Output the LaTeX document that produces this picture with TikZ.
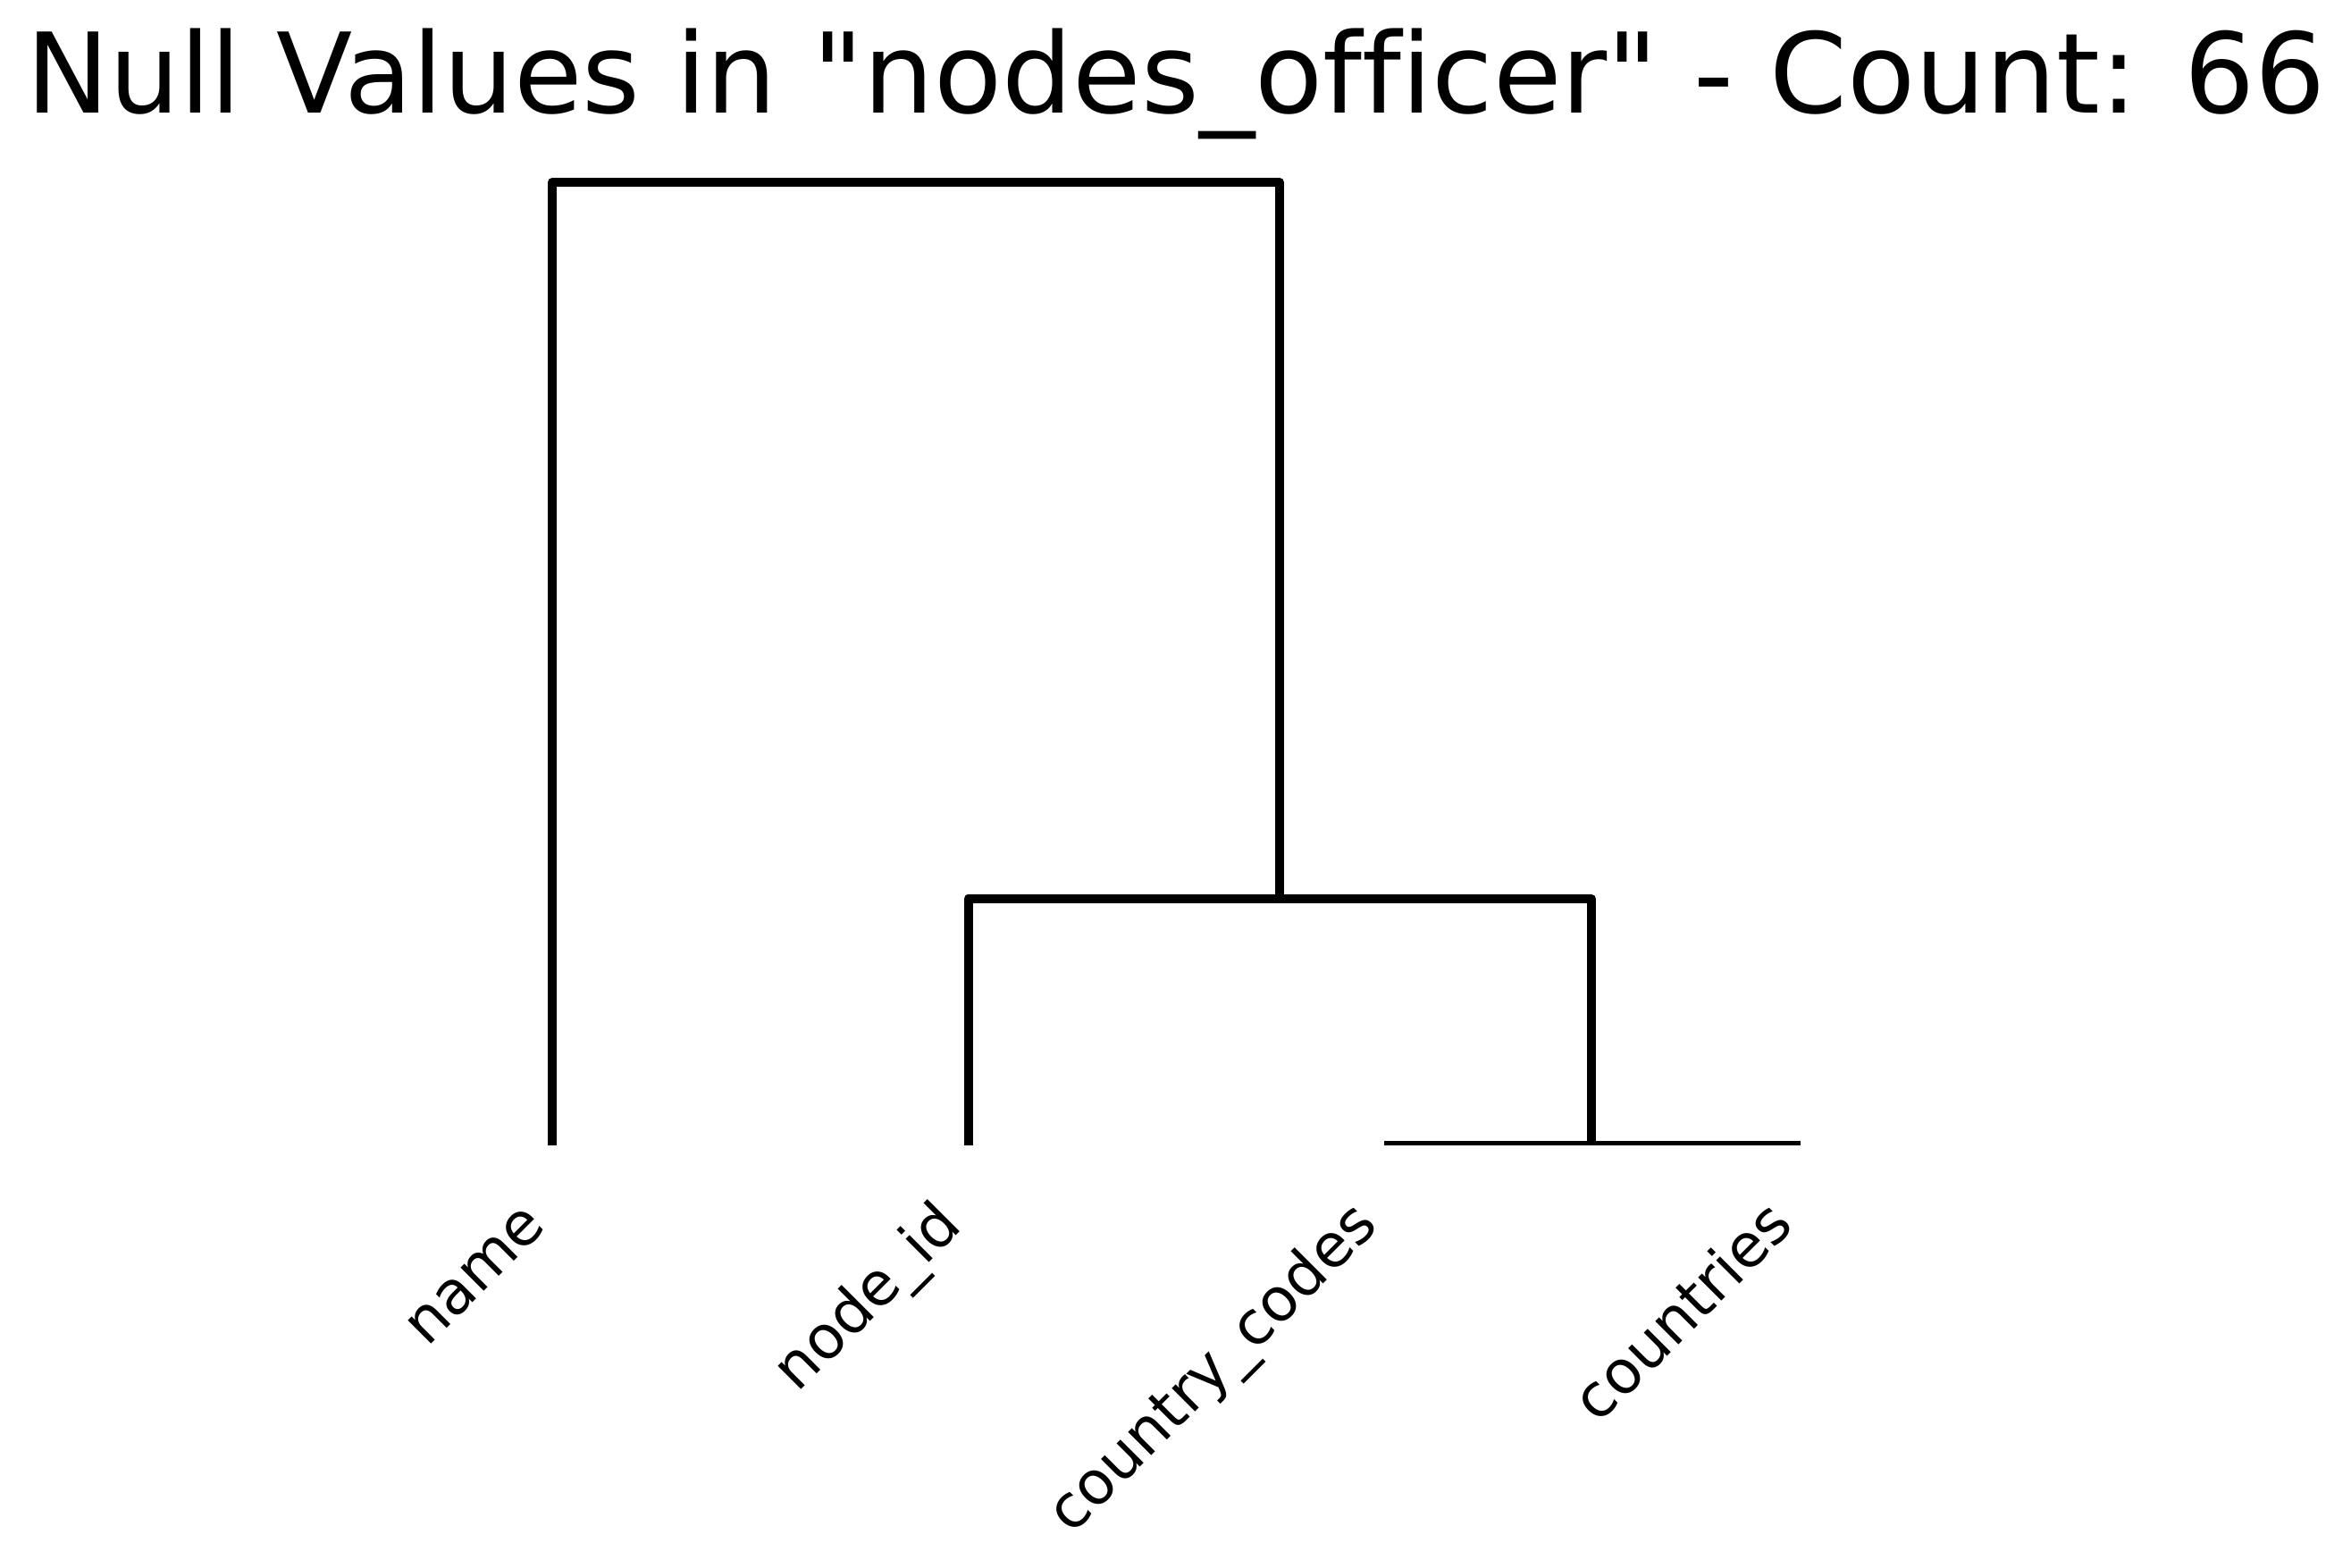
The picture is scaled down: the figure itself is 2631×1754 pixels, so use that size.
\documentclass[tikz,border=0pt]{standalone}
\usepackage{fontspec}
\newfontfamily\chartfont[Ligatures=NoCommon]{DejaVu Sans}
\usetikzlibrary{positioning}
\tikzset{%
	every link/.style={
		draw,
		line width=2.85pt,
		line join=round
	},
	base link/.style={
		draw,
		line width=1.42pt
	},
	leaf label/.style={
		rotate=45,
		anchor=south east,
		inner sep=0pt,
		text height=0.76em,
		text depth=0.24em,
		font=\chartfont\fontsize{19.1}{23}\selectfont
	},
}

\begin{document}
\begin{tikzpicture}[x=0.01cm, y=-0.01cm]
			% Canvas of the chart
			\useasboundingbox (0,0) rectangle (2631,1754);
			% Define the gap between two leaves
			\newcommand{\leafGap}{465.5}
			
			% Title
			\node[anchor=base, inner sep=0pt, font=\chartfont\fontsize{35.4}{40}\selectfont] (title) at (1316,126) {Null Values in "nodes\_officer" - Count: 66};
			
			% Leaves and their labels
			\foreach \lab [count=\i] in {name,node\_id,country\_codes,countries} {
				\coordinate (leaf\i) at (618+\i*\leafGap-\leafGap, 1282);
				\node[leaf label] (label\i) at (620+\i*\leafGap-\leafGap, 1380) {\lab};
			}
			
			% Merge points
			\coordinate (root) at (1432,204);
			\coordinate (inner) at (1432,1006);
			\coordinate (pair) at (1781,1282);
			
			% Links of the dendrogram
			\draw[base link] ([yshift=0.71pt]leaf3) -- ([yshift=0.71pt]leaf4);
			\draw[every link] (pair) |- (inner);
			\draw[every link] (leaf2) |- (inner) -- (root) -| (leaf1);
		\end{tikzpicture}
\end{document}
